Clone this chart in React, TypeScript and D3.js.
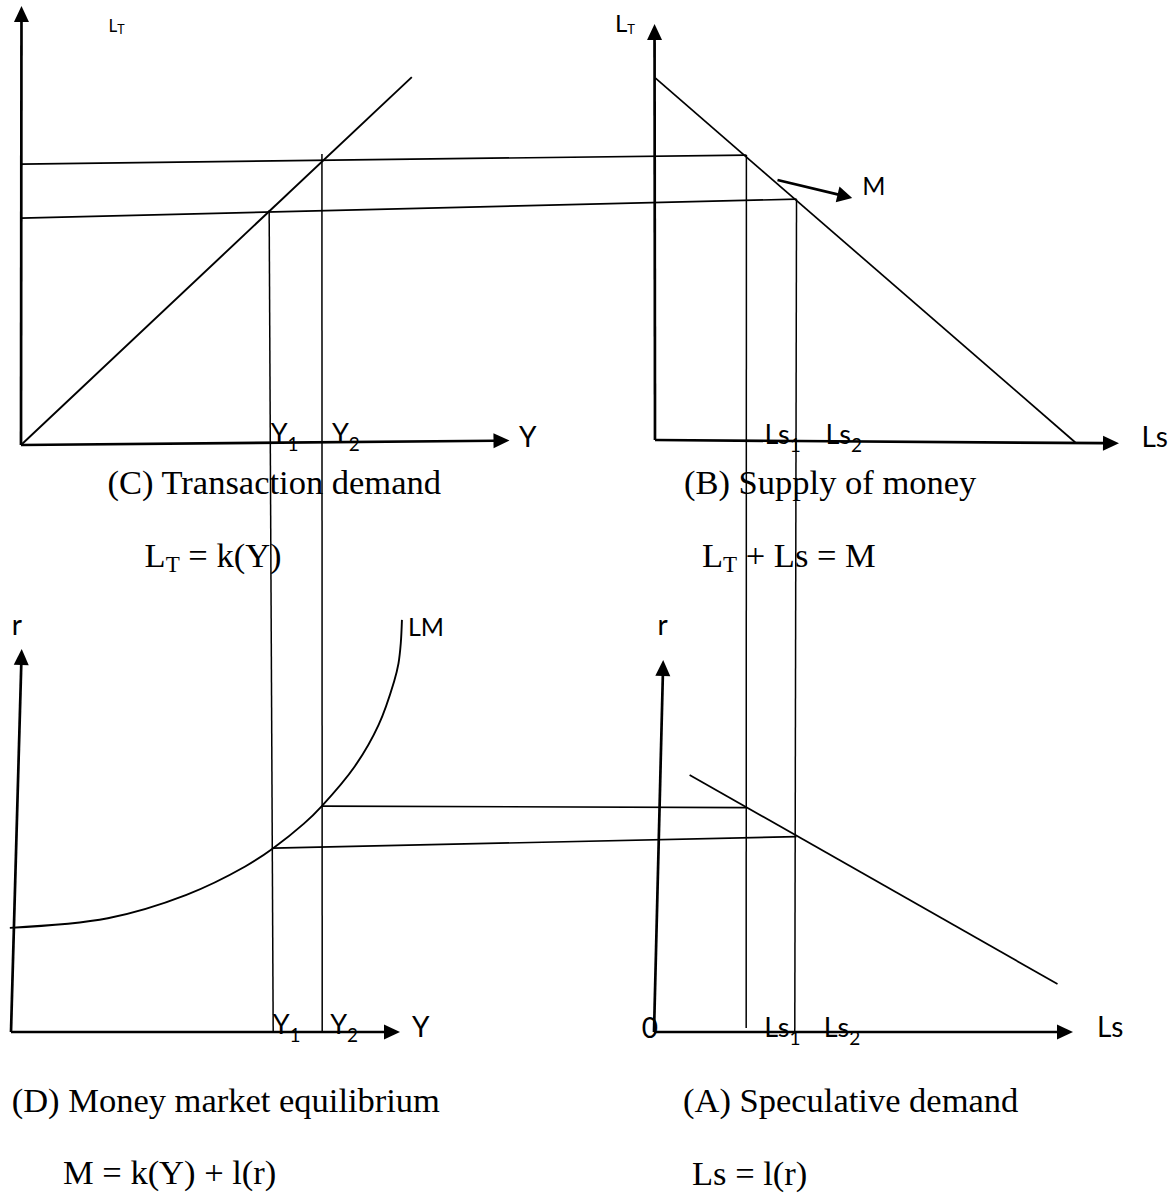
import React from "react";
import * as d3 from "d3";

type Pt = [number, number];

// (C) transaction demand, L_T = k(Y)  -- both axes read on a 0-100 scale
const cAxisY: Pt[] = [[0, 0], [0.1, 100]];
const cAxisX: Pt[] = [[0, 0], [100, 1]];
const kLine: Pt[] = [[0, 0], [80, 83.8]];

// (B) supply of money, L_T + Ls = M
const bAxisY: Pt[] = [[0, 0], [-0.1, 100]];
const bAxisX: Pt[] = [[0, 0], [100, -0.8]];
const mLine: Pt[] = [[0.1, 87], [90.6, -0.6]];
const mPointer: Pt[] = [[26.4, 62.5], [42.5, 58.2]];

// (D) money market equilibrium, the LM curve
const dAxisY: Pt[] = [[0, 0], [2.75, 100]];
const dAxisX: Pt[] = [[0, 0], [100, 0]];
const lmCurve: Pt[] = [
  [-0.3, 27.2], [24.9, 29.7], [45.1, 35.8], [60.2, 43.2], [67.4, 48.0],
  [75.3, 54.4], [79.9, 59.0], [88.4, 69.4], [94.5, 80.2], [98.5, 91.6],
  [99.6, 96.2], [100.2, 101.5], [100.5, 107.6],
];

// (A) speculative demand, Ls = l(r)
const aAxisY: Pt[] = [[0, 0], [2.2, 100]];
const aAxisX: Pt[] = [[0, 0], [100, 0]];
const lsLine: Pt[] = [[8.5, 69.1], [96.3, 12.9]];

// guide lines joining the four quadrants
const ltGuides = [ // L_T axis of C -> M line of B
  { ltC: 51.7, lsB: 30.5, ltB: 57.9 },
  { ltC: 64.0, lsB: 19.7, ltB: 68.5 },
];
const yGuides = [ // k line of C -> Y axis of D
  { sub: "1", yC: 50.8, ltC: 53.5, yD: 67.4 },
  { sub: "2", yC: 61.6, ltC: 66.3, yD: 80.0 },
];
const lsGuides = [ // M line of B -> Ls axis of A
  { sub: "1", lsB: 19.7, ltB: 68.5, lsA: 22.0, rA: 1.1 },
  { sub: "2", lsB: 30.5, ltB: 57.9, lsA: 33.6, rA: 0 },
];
const rGuides = [ // LM in D -> Ls line in A
  { yD: 67.4, rD: 48.0, lsA: 34.0, rA: 52.5 },
  { yD: 80.0, rD: 59.0, lsA: 22.2, rA: 60.3 },
];

const captions = [
  { x: 107.5, y: 494, text: "(C) Transaction demand" },
  { x: 684, y: 493.5, text: "(B) Supply of money" },
  { x: 11.7, y: 1112, text: "(D) Money market equilibrium" },
  { x: 683, y: 1112, text: "(A) Speculative demand" },
];

const sans = "Lato, 'Open Sans', sans-serif";
const serif = "'Liberation Serif', 'Times New Roman', serif";

const mk = (x0: number, x1: number, y0: number, y1: number) => ({
  x: d3.scaleLinear().domain([0, 100]).range([x0, x1]),
  y: d3.scaleLinear().domain([0, 100]).range([y0, y1]),
});
const C = mk(21, 509.5, 445, 6);
const B = mk(655, 1119, 440, 24);
const D = mk(11, 400, 1032, 649);
const A = mk(654, 1073, 1032, 660);

const at = (s: any, p: Pt): Pt => [s.x(p[0]), s.y(p[1])];

const Seg = ({ a, b, w = 1.5 }: { a: Pt; b: Pt; w?: number }) => (
  <line x1={a[0]} y1={a[1]} x2={b[0]} y2={b[1]} stroke="#000" strokeWidth={w} />
);

const Arrow = ({ a, b, w = 2.7, len = 16, half = 7.5 }: any) => {
  const dx = b[0] - a[0], dy = b[1] - a[1];
  const L = Math.hypot(dx, dy);
  const ux = dx / L, uy = dy / L;
  const bx = b[0] - ux * len, by = b[1] - uy * len;
  const pts = [
    [b[0], b[1]],
    [bx - uy * half, by + ux * half],
    [bx + uy * half, by - ux * half],
  ].map(p => p.join(",")).join(" ");
  return (
    <g>
      <line x1={a[0]} y1={a[1]} x2={bx + ux} y2={by + uy} stroke="#000" strokeWidth={w} />
      <polygon points={pts} fill="#000" />
    </g>
  );
};

const SubLabel = ({ x, y, main, sub, size = 27, subSize = 19, dy = 8 }: any) => (
  <text x={x} y={y} fontFamily={sans} fontSize={size} fill="#000">
    {main}
    <tspan fontSize={subSize} dy={dy}>{sub}</tspan>
  </text>
);

export default function App() {
  const lm = d3.line<Pt>()
    .x(p => D.x(p[0]))
    .y(p => D.y(p[1]))
    .curve(d3.curveCatmullRom.alpha(0.5));

  const cTipY = at(C, cAxisY[1]), cTipX = at(C, cAxisX[1]);
  const bTipY = at(B, bAxisY[1]), bTipX = at(B, bAxisX[1]);
  const dTipY = at(D, dAxisY[1]), dTipX = at(D, dAxisX[1]);
  const aTipY = at(A, aAxisY[1]), aTipX = at(A, aAxisX[1]);
  const lmTop = at(D, lmCurve[lmCurve.length - 1]);
  const mTip = at(B, mPointer[1]);
  const yDx = [1.5, 10];
  const lsDx = [18, 29];

  return (
    <svg width={1170} height={1194} style={{ position: "absolute", left: 0, top: 0, background: "#fff" }}>
      {/* captions */}
      {captions.map(c => (
        <text key={c.text} x={c.x} y={c.y} fontFamily={serif} fontSize={34.5} fill="#000">{c.text}</text>
      ))}
      <text x={144.6} y={567} fontFamily={serif} fontSize={34.5} style={{ whiteSpace: "pre" }}>
        L<tspan fontSize={23} dy={5}>T</tspan><tspan dy={-5}>{" = k(Y)"}</tspan>
      </text>
      <text x={702} y={567} fontFamily={serif} fontSize={34.5} style={{ whiteSpace: "pre" }}>
        L<tspan fontSize={23} dy={5}>T</tspan><tspan dy={-5}>{" + Ls = M"}</tspan>
      </text>
      <text x={63} y={1184} fontFamily={serif} fontSize={34.5} style={{ whiteSpace: "pre" }}>M = k(Y) + l(r)</text>
      <text x={692} y={1185} fontFamily={serif} fontSize={34.5} style={{ whiteSpace: "pre" }}>Ls = l(r)</text>

      {/* axes */}
      <Arrow a={at(C, cAxisY[0])} b={cTipY} />
      <Arrow a={at(C, cAxisX[0])} b={cTipX} />
      <Arrow a={at(B, bAxisY[0])} b={bTipY} />
      <Arrow a={at(B, bAxisX[0])} b={bTipX} />
      <Arrow a={at(D, dAxisY[0])} b={dTipY} />
      <Arrow a={at(D, dAxisX[0])} b={dTipX} />
      <Arrow a={at(A, aAxisY[0])} b={aTipY} />
      <Arrow a={at(A, aAxisX[0])} b={aTipX} />

      {/* functions */}
      <Seg a={at(C, kLine[0])} b={at(C, kLine[1])} w={1.9} />
      <Seg a={at(B, mLine[0])} b={at(B, mLine[1])} w={1.7} />
      <Seg a={at(A, lsLine[0])} b={at(A, lsLine[1])} w={1.7} />
      <path d={lm(lmCurve) || ""} fill="none" stroke="#000" strokeWidth={1.9} />
      <Arrow a={at(B, mPointer[0])} b={mTip} w={2.7} len={15} half={8} />

      {/* guides */}
      {ltGuides.map((g, i) => (
        <Seg key={"lt" + i} a={at(C, [0, g.ltC])} b={at(B, [g.lsB, g.ltB])} w={1.7} />
      ))}
      {yGuides.map((g, i) => (
        <Seg key={"y" + i} a={at(C, [g.yC, g.ltC])} b={at(D, [g.yD, 0])} w={1.5} />
      ))}
      {lsGuides.map((g, i) => (
        <Seg key={"ls" + i} a={at(B, [g.lsB, g.ltB])} b={at(A, [g.lsA, g.rA])} w={1.5} />
      ))}
      {rGuides.map((g, i) => (
        <Seg key={"r" + i} a={at(D, [g.yD, g.rD])} b={at(A, [g.lsA, g.rA])} w={1.7} />
      ))}

      {/* axis and point labels */}
      <SubLabel x={cTipY[0] + 87} y={cTipY[1] + 26} main="L" sub="T" size={17} subSize={12.5} dy={2} />
      <SubLabel x={bTipY[0] - 39.5} y={bTipY[1] + 8} main="L" sub="T" size={24} subSize={13} dy={2} />
      <text x={cTipX[0] + 9.5} y={cTipX[1] + 6} fontFamily={sans} fontSize={28}>Y</text>
      <text x={bTipX[0] + 22.6} y={bTipX[1] + 3.4} fontFamily={sans} fontSize={28}>Ls</text>
      <text x={dTipY[0] - 10} y={dTipY[1] - 14} fontFamily={sans} fontSize={28}>r</text>
      <text x={dTipX[0] + 12} y={dTipX[1] + 5} fontFamily={sans} fontSize={28}>Y</text>
      <text x={aTipY[0] - 5.7} y={aTipY[1] - 25} fontFamily={sans} fontSize={28}>r</text>
      <text x={aTipX[0] + 24} y={aTipX[1] + 5} fontFamily={sans} fontSize={28}>Ls</text>
      <text x={A.x(0) - 12.3} y={A.y(0) + 6} fontFamily={sans} fontSize={28}>0</text>
      <text x={lmTop[0] + 6} y={lmTop[1] + 16} fontFamily={sans} fontSize={25}>LM</text>
      <text x={mTip[0] + 10} y={mTip[1] - 3} fontFamily={sans} fontSize={25}>M</text>

      {yGuides.map((g, i) => (
        <g key={"yl" + i}>
          <SubLabel x={C.x(g.yC) + yDx[i]} y={C.y(0) - 2} main="Y" sub={g.sub} />
          <SubLabel x={D.x(g.yD) + yDx[i] - 2} y={D.y(0) + 2} main="Y" sub={g.sub} />
        </g>
      ))}
      {lsGuides.map((g, i) => (
        <g key={"lsl" + i}>
          <SubLabel x={B.x(g.lsB) + lsDx[i]} y={B.y(0) + 4} main="Ls" sub={g.sub} />
          <SubLabel x={A.x(g.lsA) + lsDx[i]} y={A.y(0) + 5} main="Ls" sub={g.sub} />
        </g>
      ))}
    </svg>
  );
}
